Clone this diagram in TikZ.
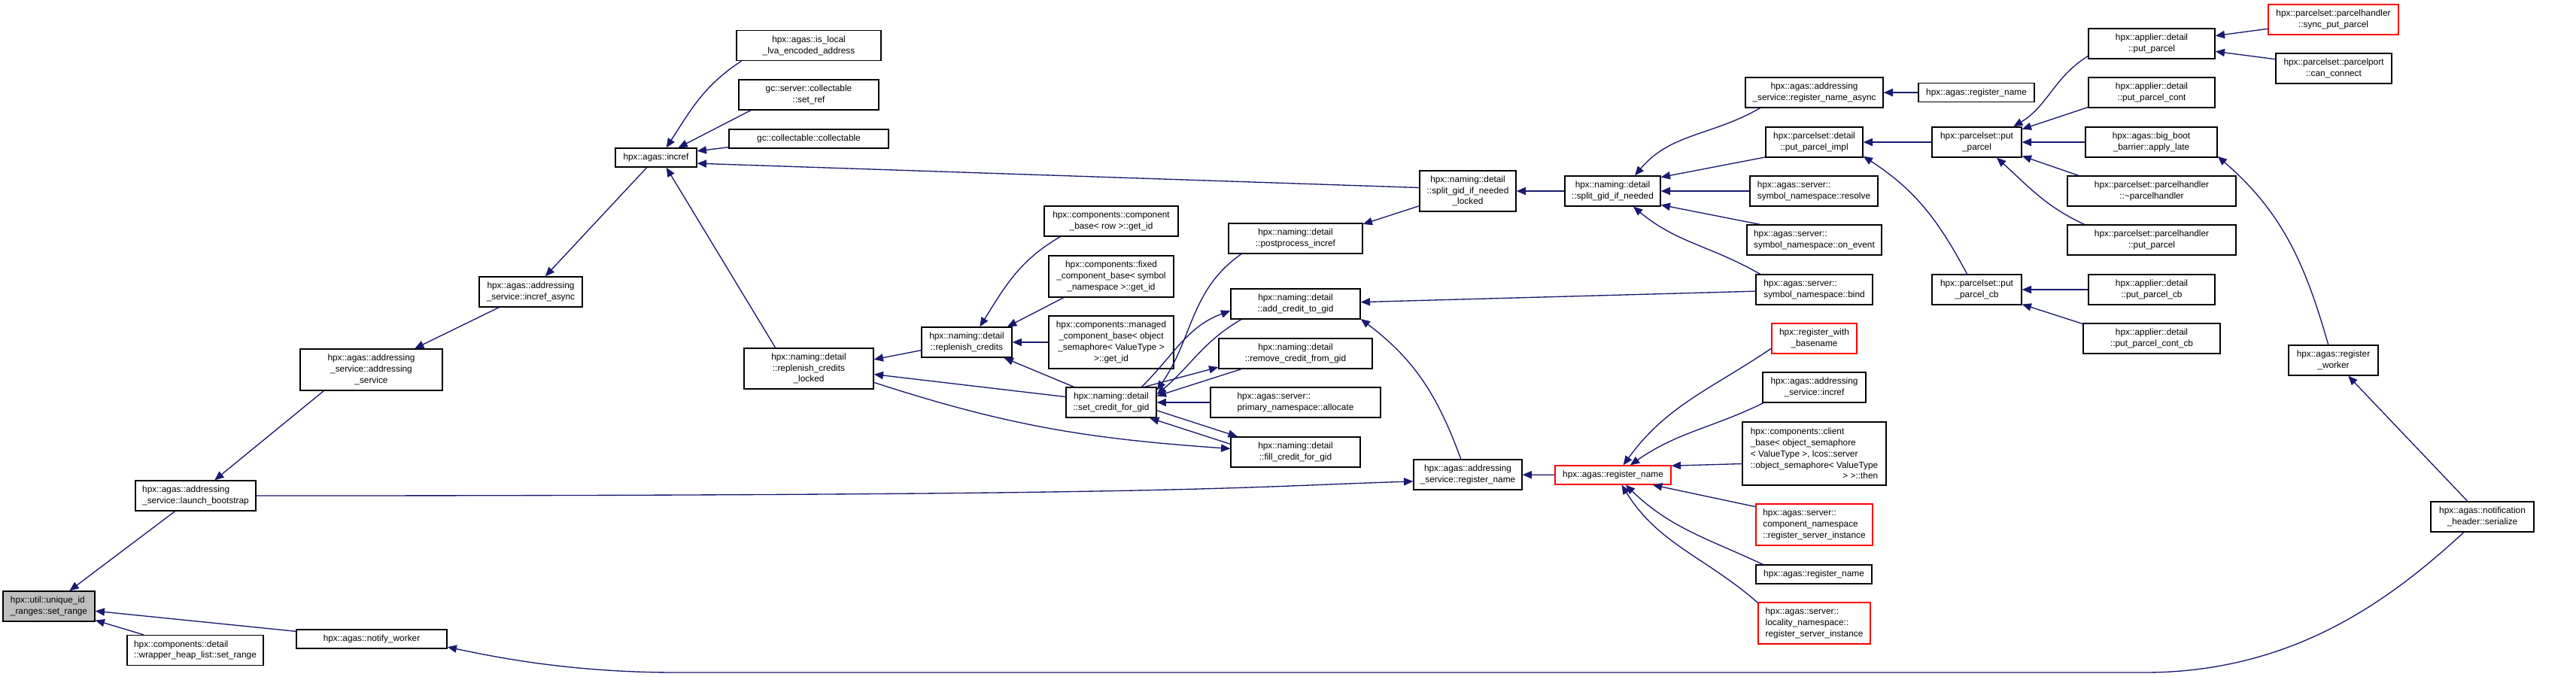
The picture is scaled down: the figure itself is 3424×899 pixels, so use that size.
\documentclass[tikz,border=0pt]{standalone}
\usepackage{xcolor}
\usepackage{fontspec}
\setmainfont{Liberation Sans}
\usepackage{tikz}
\usetikzlibrary{arrows.meta, positioning}

\definecolor{edgeblue}{HTML}{191970}
\definecolor{cutred}{HTML}{FF0000}
\definecolor{rootgray}{HTML}{BFBFBF}

\begin{document}
\begin{tikzpicture}[
        x=0.01cm, y=0.01cm,
        fn/.style={rectangle, draw=black, fill=white, line width=0.38pt, inner sep=0pt, align=center, font=\fontsize{3.37pt}{4.2pt}\selectfont},
        fnl/.style={fn, align=left},
        root/.style={fn, fill=rootgray},
        cut/.style={fn, draw=cutred},
        sz/.style 2 args={minimum width=#1*0.01cm, minimum height=#2*0.01cm},
        call/.style={->, >={Triangle[length=3.5pt, width=2.9pt]}, draw=edgeblue, line width=0.38pt}
    ]
        \useasboundingbox (0,0) rectangle (3424,-899);

        % Column 1: the function itself
        \node[root, align=left, sz={122}{40}] (setrange) at (65,-806) {hpx::util::unique\_id\\\_ranges::set\_range};

        % Column 2
        \node[fnl, sz={160}{40}] (launch) at (260,-659) {hpx::agas::addressing\\\_service::launch\_bootstrap};
        \node[fnl, sz={181}{40}] (wrapper) at (259.5,-864.5) {hpx::components::detail\\::wrapper\_heap\_list::set\_range};

        % Column 3
        \node[fn, sz={189}{55}] (asctor) at (493.5,-491.5) {hpx::agas::addressing\\\_service::addressing\\\_service};
        \node[fn, sz={200}{25}] (notify) at (494,-849.5) {hpx::agas::notify\_worker};

        % Column 4
        \node[fn, sz={137}{40}] (increfasync) at (705.5,-388) {hpx::agas::addressing\\\_service::incref\_async};

        % Column 5
        \node[fn, sz={108}{25}] (incref) at (872,-209.5) {hpx::agas::incref};

        % Column 6
        \node[fn, sz={192}{40}] (islocal) at (1075,-60.5) {hpx::agas::is\_local\\\_lva\_encoded\_address};
        \node[fn, sz={186}{40}] (setref) at (1075,-126) {gc::server::collectable\\::set\_ref};
        \node[fn, sz={212}{25}] (collectable) at (1075,-184.5) {gc::collectable::collectable};
        \node[fn, sz={172}{54}] (rcl) at (1075,-490) {hpx::naming::detail\\::replenish\_credits\\\_locked};

        % Column 7
        \node[fn, sz={120}{40}] (repl) at (1285,-455) {hpx::naming::detail\\::replenish\_credits};

        % Column 8
        \node[fn, sz={178}{40}] (compbase) at (1477,-294) {hpx::components::component\\\_base< row >::get\_id};
        \node[fn, sz={166}{55}] (fixedcb) at (1477,-367.5) {hpx::components::fixed\\\_component\_base< symbol\\\_namespace >::get\_id};
        \node[fn, sz={166}{70}] (managedcb) at (1477,-455) {hpx::components::managed\\\_component\_base< object\\\_semaphore< ValueType >\\>::get\_id};
        \node[fn, sz={120}{40}] (setcredit) at (1477,-535) {hpx::naming::detail\\::set\_credit\_for\_gid};

        % Column 9
        \node[fn, sz={178}{40}] (postproc) at (1722,-317) {hpx::naming::detail\\::postprocess\_incref};
        \node[fn, sz={172}{40}] (addcredit) at (1722,-404) {hpx::naming::detail\\::add\_credit\_to\_gid};
        \node[fn, sz={204}{40}] (removecredit) at (1722,-470) {hpx::naming::detail\\::remove\_credit\_from\_gid};
        \node[fnl, sz={226}{40}] (allocate) at (1722,-535) {hpx::agas::server::\\primary\_namespace::allocate};
        \node[fn, sz={172}{40}] (fillcredit) at (1722,-601) {hpx::naming::detail\\::fill\_credit\_for\_gid};

        % Column 10
        \node[fn, sz={128}{54}] (splitlocked) at (1951,-254) {hpx::naming::detail\\::split\_gid\_if\_needed\\\_locked};
        \node[fn, sz={144}{40}] (asregname) at (1951,-631) {hpx::agas::addressing\\\_service::register\_name};

        % Column 11
        \node[fn, sz={127}{40}] (split) at (2143.5,-254) {hpx::naming::detail\\::split\_gid\_if\_needed};
        \node[cut, sz={154}{25}] (regname) at (2144,-631.5) {hpx::agas::register\_name};

        % Column 12
        \node[fn, sz={183}{40}] (regnameasync) at (2411.5,-123) {hpx::agas::addressing\\\_service::register\_name\_async};
        \node[fn, sz={129}{40}] (ppimpl) at (2411.5,-189) {hpx::parcelset::detail\\::put\_parcel\_impl};
        \node[fnl, sz={170}{40}] (resolve) at (2411,-254) {hpx::agas::server::\\symbol\_namespace::resolve};
        \node[fnl, sz={179}{40}] (onevent) at (2411.5,-319) {hpx::agas::server::\\symbol\_namespace::on\_event};
        \node[fnl, sz={155}{40}] (bind) at (2411.5,-385) {hpx::agas::server::\\symbol\_namespace::bind};
        \node[cut, sz={113}{40}] (regbasename) at (2411.5,-450) {hpx::register\_with\\\_basename};
        \node[fn, sz={137}{40}] (asincref) at (2411.5,-515) {hpx::agas::addressing\\\_service::incref};
        \node[fnl, sz={191}{84}] (clientbase) at (2411.5,-603) {hpx::components::client\\\_base< object\_semaphore\\< ValueType >, lcos::server\\::object\_semaphore< ValueType\\\hfill> >::then\hfill};
        \node[cut, align=left, sz={155}{55}] (compns) at (2411.5,-697.5) {hpx::agas::server::\\component\_namespace\\::register\_server\_instance};
        \node[fn, sz={154}{25}] (regname3) at (2411,-763.5) {hpx::agas::register\_name};
        \node[cut, align=left, sz={149}{55}] (localityns) at (2411.5,-828.5) {hpx::agas::server::\\locality\_namespace::\\register\_server\_instance};

        % Column 13
        \node[fn, sz={154}{25}] (regname2) at (2627,-123) {hpx::agas::register\_name};
        \node[fn, sz={119}{40}] (putparcel) at (2627.5,-189) {hpx::parcelset::put\\\_parcel};
        \node[fn, sz={119}{40}] (putparcelcb) at (2627.5,-385) {hpx::parcelset::put\\\_parcel\_cb};

        % Column 14
        \node[fn, sz={168}{40}] (apput) at (2860,-58) {hpx::applier::detail\\::put\_parcel};
        \node[fn, sz={168}{40}] (apcont) at (2860,-123) {hpx::applier::detail\\::put\_parcel\_cont};
        \node[fn, sz={175}{40}] (applylate) at (2859.5,-189) {hpx::agas::big\_boot\\\_barrier::apply\_late};
        \node[fn, sz={224}{40}] (dtor) at (2860,-254) {hpx::parcelset::parcelhandler\\::\textasciitilde parcelhandler};
        \node[fn, sz={224}{40}] (phput) at (2860,-319) {hpx::parcelset::parcelhandler\\::put\_parcel};
        \node[fn, sz={168}{40}] (apcb) at (2860,-385) {hpx::applier::detail\\::put\_parcel\_cb};
        \node[fn, sz={182}{40}] (apcontcb) at (2860,-450) {hpx::applier::detail\\::put\_parcel\_cont\_cb};

        % Column 15
        \node[cut, sz={173}{40}] (syncput) at (3101.5,-26) {hpx::parcelset::parcelhandler\\::sync\_put\_parcel};
        \node[fn, sz={154}{40}] (canconnect) at (3102,-91) {hpx::parcelset::parcelport\\::can\_connect};
        \node[fn, sz={119}{40}] (regworker) at (3101.5,-479) {hpx::agas::register\\\_worker};

        % Column 16
        \node[fn, sz={137}{40}] (serialize) at (3299.5,-687) {hpx::agas::notification\\\_header::serialize};

        % Route of the long bottom edge
        \coordinate (lowR) at (2850,-894);
        \coordinate (lowL) at (900,-894);

        % Callers of set_range
        \draw[call] (launch) -- (setrange);
        \draw[call] (wrapper) -- (setrange);
        \draw[call] (notify) -- (setrange);
        \draw[call] (asctor.204) -- (launch);
        \draw[call] (increfasync) -- (asctor);
        \draw[call] (incref) -- (increfasync);

        % Callers of incref
        \draw[call] (islocal.193) to[out=213, in=57] (incref.44);
        \draw[call] (setref.195) -- (incref.24);
        \draw[call] (collectable.186) -- (incref.9);
        \draw[call] (splitlocked.176) -- (incref.352);
        \draw[call] (rcl.148) -- (incref.316);

        % Credits
        \draw[call] (repl.190) -- (rcl.8);
        \draw[call] (setcredit.173) -- (rcl.355);
        \draw[call] (rcl.348) to[out=-18, in=176] (fillcredit.177);
        \draw[call] (compbase.197) to[out=210, in=58] (repl.50);
        \draw[call] (fixedcb.204) -- (repl.21);
        \draw[call] (managedcb) -- (repl);
        \draw[call] (setcredit) -- (repl);
        \draw[call] (postproc.196) to[out=215, in=55] (setcredit.15);
        \draw[call] (addcredit.196) to[out=210, in=40] (setcredit.10);
        \draw[call] (setcredit.27) to[out=45, in=200] (addcredit.186);
        \draw[call] (removecredit.196) -- (setcredit.8);
        \draw[call] (setcredit.25) -- (removecredit.190);
        \draw[call] (allocate) -- (setcredit);
        \draw[call] (fillcredit.173) -- (setcredit.338);
        \draw[call] (setcredit.350) -- (fillcredit.165);

        % Splitting gids
        \draw[call] (splitlocked.197) -- (postproc.12);
        \draw[call] (split) -- (splitlocked);
        \draw[call] (regnameasync.196) to[out=210, in=50] (split.35);
        \draw[call] (ppimpl.197) -- (split.16);
        \draw[call] (resolve) -- (split);
        \draw[call] (onevent.164) -- (split.344);
        \draw[call] (bind.164) to[out=150, in=-40] (split.323);
        \draw[call] (bind) -- (addcredit);

        % Register name
        \draw[call] (asregname.114) to[out=110, in=-37] (addcredit.347);
        \draw[call] (regname) -- (asregname);
        \draw[call] (launch.east) .. controls +(1250,0) and +(-250,-8) .. (asregname.187);
        \draw[call] (regname2) -- (regnameasync);
        \draw[call] (regbasename.193) to[out=214, in=54] (regname.44);
        \draw[call] (asincref.197) to[out=206, in=35] (regname.30);
        \draw[call] (clientbase.188) -- (regname.9);
        \draw[call] (compns.163) -- (regname.346);
        \draw[call] (regname3.169) to[out=155, in=-44] (regname.322);
        \draw[call] (localityns.160) to[out=139, in=-58] (regname.311);

        % Parcels
        \draw[call] (putparcel) -- (ppimpl);
        \draw[call] (putparcelcb.122) to[out=118, in=-33] (ppimpl.344);
        \draw[call] (apput.191) to[out=212, in=31] (putparcel.23);
        \draw[call] (apcont.193) -- (putparcel.16);
        \draw[call] (applylate) -- (putparcel);
        \draw[call] (dtor.168) -- (putparcel.343);
        \draw[call] (phput.167) to[out=155, in=-42] (putparcel.322);
        \draw[call] (apcb) -- (putparcelcb);
        \draw[call] (apcontcb.168) -- (putparcelcb.342);
        \draw[call] (syncput.188) -- (apput.7);
        \draw[call] (canconnect.171) -- (apput.353);

        % Workers
        \draw[call] (regworker.108) to[out=106, in=-41] (applylate.348);
        \draw[call] (serialize) -- (regworker);
        \draw[call] (serialize.220) .. controls +(-96,-88) and +(200,0) .. (lowR) -- (lowL) .. controls +(-140,0) and +(66,-14) .. (notify.-6);

    \end{tikzpicture}
\end{document}
